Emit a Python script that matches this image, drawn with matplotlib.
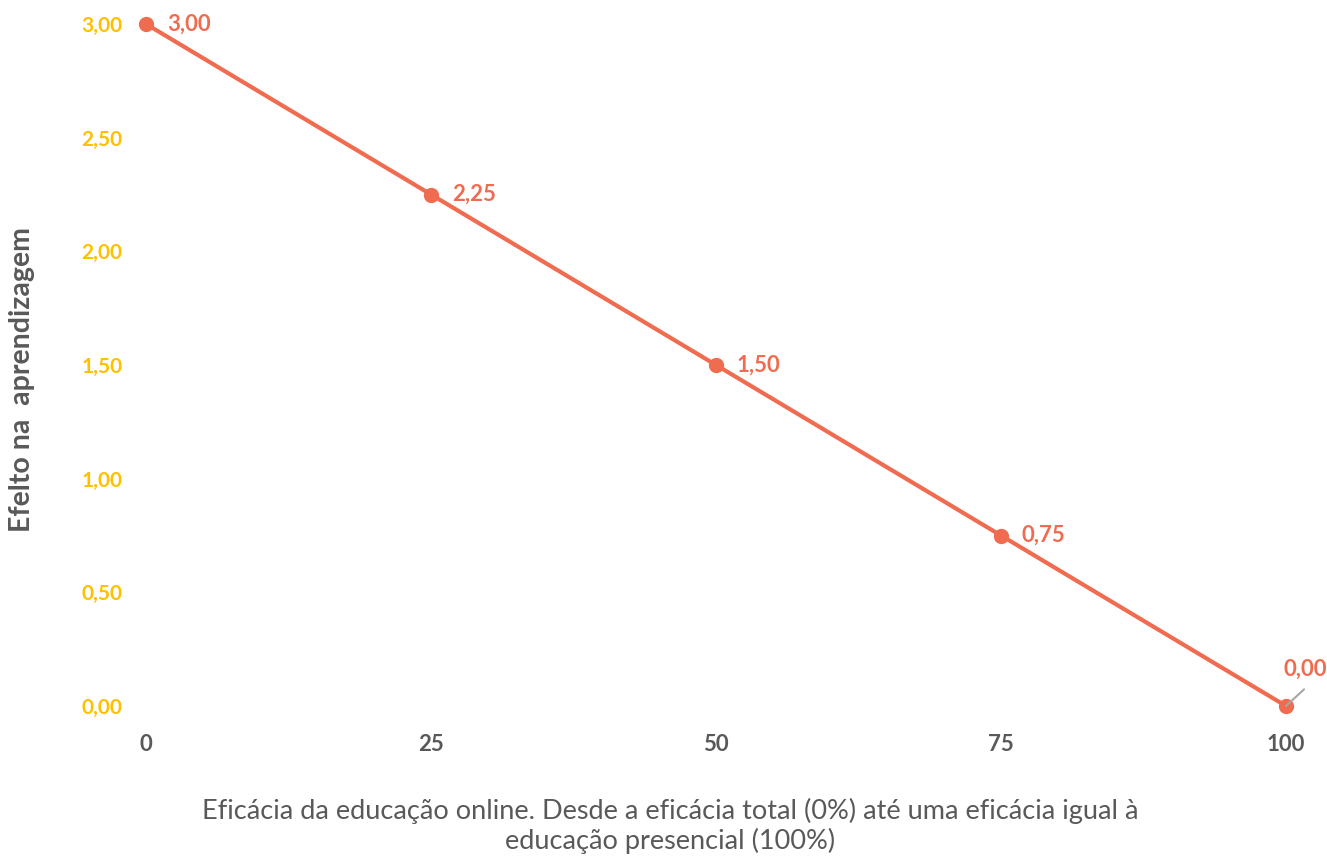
import matplotlib
matplotlib.use('Agg')
import matplotlib.pyplot as plt

plt.rcParams['font.family'] = ['Lato', 'DejaVu Sans']

# eficácia (%) e efeito na aprendizagem
eficacia = [0, 25, 50, 75, 100]
efeito = [3.00, 2.25, 1.50, 0.75, 0.00]
yticks = [0.0, 0.5, 1.0, 1.5, 2.0, 2.5, 3.0]

coral = '#EF6C50'
amarelo = '#FFC000'
cinza = '#595959'

def virgula(v):
    return f'{v:.2f}'.replace('.', ',')

fig = plt.figure(figsize=(13.27, 8.56), dpi=100)
ax = fig.add_axes([146/1327, 1-706/856, (1286-146)/1327, (706-24)/856])

ax.plot(eficacia, efeito, color=coral, lw=3, marker='o', ms=10, clip_on=False, zorder=3)

for x, y in zip(eficacia, efeito):
    if y == 0:
        # rótulo acima, com linha de chamada
        ax.annotate('', xy=(x, y), xytext=(13, 12), textcoords='offset points',
                    arrowprops=dict(arrowstyle='-', color='#A6A6A6', lw=1.5,
                                    shrinkA=0, shrinkB=0), zorder=4)
        ax.annotate(virgula(y), xy=(x, y), xytext=(14, 19), textcoords='offset points',
                    color=coral, fontsize=16, fontweight='bold', ha='center', va='bottom')
    else:
        ax.annotate(virgula(y), xy=(x, y), xytext=(15, 0), textcoords='offset points',
                    color=coral, fontsize=16, fontweight='bold', va='center', ha='left')

ax.set_xlim(0, 100)
ax.set_ylim(0, 3)
ax.set_xticks(eficacia)
ax.set_xticklabels([str(v) for v in eficacia], color=cinza, fontsize=16, fontweight='bold')
ax.set_yticks(yticks)
ax.set_yticklabels([virgula(v) for v in yticks], color=amarelo, fontsize=15, fontweight='bold')
ax.tick_params(length=0)
ax.tick_params(axis='x', pad=20)
ax.tick_params(axis='y', pad=17)
for s in ax.spines.values():
    s.set_visible(False)

# títulos dos eixos
fig.text(22/1327, 1-380/856, 'Efelto na  aprendizagem', color=cinza, fontsize=20.5,
         fontweight='bold', rotation=90, ha='center', va='center')
fig.text(670/1327, 1-826/856,
         'Eficácia da educação online. Desde a eficácia total (0%) até uma eficácia igual à\neducação presencial (100%)',
         color=cinza, fontsize=19.5, fontweight='normal', ha='center', va='center', linespacing=1.2)

fig.savefig('out.png', dpi=100)
